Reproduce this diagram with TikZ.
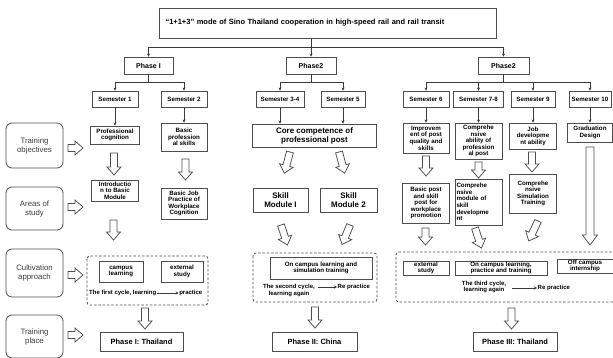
\documentclass[tikz,border=0pt]{standalone}
\usepackage{fontspec}
\setmainfont{Liberation Sans}
\usetikzlibrary{arrows.meta}
\definecolor{bdr}{HTML}{4D4D4D}
\definecolor{ln}{HTML}{3A3A3A}
\definecolor{txt}{HTML}{3C3C3C}
\tikzset{
  sz/.style 2 args={minimum width=#1pt, minimum height=#2pt},
  bx/.style={draw=bdr, line width=0.9pt, inner sep=0.5pt, align=center,
    font=\fontsize{6.2}{6.6}\selectfont\bfseries, text=black},
  lbl/.style={draw=bdr, line width=0.8pt, rounded corners=6pt, align=center,
    minimum width=57pt, font=\fontsize{7.8}{9}\selectfont, text=txt},
  conn/.style={draw=ln, line width=0.7pt, -{Stealth[length=3pt,width=3pt]}},
  plainln/.style={draw=ln, line width=0.7pt},
  hol/.style={draw=bdr, line width=0.75pt, fill=white, line join=miter},
  dbox/.style={draw=bdr, line width=0.8pt, dash pattern=on 2.5pt off 1.8pt, rounded corners=3pt},
  cyc/.style={inner sep=0.5pt, align=center, font=\fontsize{6}{6.8}\selectfont\bfseries, text=black},
  pics/harrow/.style={code={\draw[hol] (-3.5,0) -- (-3.5,#1-8) -- (-7,#1-8) -- (0,#1) -- (7,#1-8) -- (3.5,#1-8) -- (3.5,0) -- cycle;}},
  pics/hlong/.style={code={\draw[hol] (-4,0) -- (-4,#1-10) -- (-7.5,#1-10) -- (0,#1) -- (7.5,#1-10) -- (4,#1-10) -- (4,0) -- cycle;}},
}
\begin{document}
\begin{tikzpicture}[x=1pt,y=-1pt]
\useasboundingbox (0,0) rectangle (613,358);
\fill[white] (0,0) rectangle (613,358);

% title
\node[bx, sz={337}{30}, inner xsep=6pt, text width=325pt, align=left,
  font=\fontsize{7.5}{8.5}\selectfont\bfseries] (title) at (328,23)
  {“1+1+3” mode of Sino Thailand cooperation in high-speed rail and rail transit};

% phases
\node[bx, sz={49}{17}, font=\fontsize{7}{7.5}\selectfont\bfseries] (p1) at (148.5,65.5) {Phase I};
\node[bx, sz={50}{17}, font=\fontsize{7}{7.5}\selectfont\bfseries] (p2) at (311,65.5) {Phase2};
\node[bx, sz={51}{17}, font=\fontsize{7}{7.5}\selectfont\bfseries] (p3) at (503.5,65.5) {Phase2};

\coordinate (bar1) at (311,47);
\draw[conn] (title.south -| p2.north) -- (p2.north);
\draw[conn] (bar1) -| (p1.north);
\draw[conn] (bar1) -| (p3.north);

% semesters
\node[bx, sz={46}{16}] (s1) at (115,99) {Semester 1};
\node[bx, sz={46}{16}] (s2) at (184,99) {Semester 2};
\node[bx, sz={48}{16}] (s34) at (280,99) {Semester 3-4};
\node[bx, sz={44}{16}] (s5) at (343,99) {Semester 5};
\node[bx, sz={46}{16}] (s6) at (426,99) {Semester 6};
\node[bx, sz={50}{16}] (s78) at (478.5,99) {Semester 7-8};
\node[bx, sz={44}{16}] (s9) at (533,99) {Semester 9};
\node[bx, sz={42}{16}] (s10) at (590,99) {Semester 10};

\coordinate (b1) at (148.5,82);
\coordinate (b2) at (311,82);
\coordinate (b3) at (503.5,82);
\draw[plainln] (p1.south) -- (b1);
\draw[plainln] (p2.south) -- (b2);
\draw[plainln] (p3.south) -- (b3);
\draw[conn] (b1) -| (s1.north);
\draw[conn] (b1) -| (s2.north);
\draw[conn] (b2) -| (s34.north);
\draw[conn] (b2) -| (s5.north);
\draw[conn] (b3) -| (s6.north);
\draw[conn] (b3) -| (s78.north);
\draw[conn] (b3) -| (s9.north);
\draw[conn] (b3) -| (s10.north);

% left labels
\node[lbl, minimum height=45pt] (lto) at (34.5,145.5) {Training\\objectives};
\node[lbl, minimum height=43pt] (las) at (34.5,208.5) {Areas of\\study};
\node[lbl, minimum height=48pt] (lca) at (34.5,273) {Cultivation\\approach};
\node[lbl, minimum height=43pt] (ltp) at (34.5,336.5) {Training\\place};
\pic[rotate=90] at (68,148) {harrow=15};
\pic[rotate=90] at (68,207) {harrow=15};
\pic[rotate=90] at (68,275) {harrow=15};
\pic[rotate=90] at (68,335) {harrow=15};

% objectives row
\node[bx, sz={49}{18}] (pc) at (115,135) {Professional\\cognition};
\node[bx, sz={46}{28}] (bps) at (184,137) {Basic\\profession\\al skills};
\node[bx, sz={124}{23}, font=\fontsize{8}{9}\selectfont\bfseries] (core) at (314.5,135.5) {Core competence of\\professional post};
\node[bx, sz={46}{30}] (imp) at (426,138) {Improvem\\ent of post\\quality and\\skills};
\node[bx, sz={47}{36}] (cab) at (478.5,141) {Comprehe\\nsive\\ability of\\profession\\al post};
\node[bx, sz={47}{26}] (jda) at (533,136) {Job\\developme\\nt ability};
\node[bx, sz={45}{19}] (gd) at (590,132.5) {Graduation\\Design};

\draw[conn] (s1.south) -- (s1.south |- pc.north);
\draw[conn] (s2.south) -- (s2.south |- bps.north);
\draw[conn] (s34.south) -- (s34.south |- core.north);
\draw[conn] (s5.south) -- (s5.south |- core.north);
\draw[conn] (s6.south) -- (s6.south |- imp.north);
\draw[conn] (s78.south) -- (s78.south |- cab.north);
\draw[conn] (s9.south) -- (s9.south |- jda.north);
\draw[conn] (s10.south) -- (s10.south |- gd.north);

% areas row
\node[bx, sz={47}{21}] (ibm) at (115,190.5) {Introductio\\n to Basic\\Module};
\node[bx, sz={46}{31}] (bjp) at (184,203.5) {Basic Job\\Practice of\\Workplace\\Cognition};
\node[bx, sz={55}{24}, font=\fontsize{8}{9}\selectfont\bfseries] (sm1) at (280.5,200) {Skill\\Module I};
\node[bx, sz={57}{24}, font=\fontsize{8}{9}\selectfont\bfseries] (sm2) at (348.5,200) {Skill\\Module 2};
\node[bx, sz={47}{40}] (bpp) at (426,203) {Basic post\\and skill\\post for\\workplace\\promotion};
\node[bx, sz={47}{46}, text width=44pt, align=left] (cmd) at (478.5,202) {Comprehe\\nsive\\module of\\skill\\developme\\nt};
\node[bx, sz={47}{39}] (cst) at (533,193.5) {Comprehe\\nsive\\Simulation\\Training};

% hollow arrows rows
\pic at (114,153) {harrow=22};
\pic at (185.5,159) {harrow=21};
\pic[rotate=-15] at (290,152) {harrow=22};
\pic[rotate=15] at (339,152) {harrow=22};
\pic at (426,156) {harrow=20};
\pic at (478.5,162) {harrow=16};
\pic at (532,152) {harrow=20};
\pic at (590,147) {hlong=98};

\pic at (113.5,220) {harrow=20};
\pic[rotate=18] at (281,225) {harrow=21};
\pic[rotate=-22] at (350,225) {harrow=21};
\pic at (425.5,228) {harrow=17};
\pic[rotate=18] at (475,228) {harrow=21};
\pic[rotate=-25] at (538,221) {harrow=22};

% cultivation row
\draw[dbox] (87,256) rectangle (208,305);
\draw[dbox] (253,253) rectangle (377,302);
\draw[dbox] (616,252) -- (396,252) -- (396,302) -- (616,302);

\node[bx, sz={44}{21}] (cl) at (121,271.5) {campus\\learning};
\node[bx, sz={42}{21}] (es1) at (182,271.5) {external\\study};
\node[cyc, anchor=west] (c1a) at (88.5,293) {The first cycle, learning};
\node[cyc, anchor=east] (c1b) at (203,293) {practice};
\draw[conn] (c1a.east) -- (c1b.west);

\node[bx, sz={102}{22}] (ocs) at (321,268) {On campus learning and\\simulation training};
\node[cyc] (c2a) at (289,290.5) {The second cycle,\\learning again};
\node[cyc, anchor=west] (c2b) at (337,287) {Re practice};
\draw[conn] ([xshift=2pt]c2a.east |- c2b.west) -- (c2b.west);

\node[bx, sz={46}{14}] (es2) at (426,268) {external\\study};
\node[bx, sz={92}{14}] (oc) at (501,268) {On campus learning,\\practice and training};
\node[bx, sz={56}{14}] (ofc) at (585,266) {Off campus\\internship};
\node[cyc] (c3a) at (484,287) {The third cycle,\\learning again};
\node[cyc, anchor=west] (c3b) at (537,288) {Re practice};
\draw[conn] ([xshift=5pt]c3a.east |- c3b.west) -- (c3b.west);

% bottom
\pic at (145,308) {harrow=21};
\pic at (315,307) {harrow=21};
\pic at (511.5,308) {harrow=21};
\node[bx, sz={83}{19}, font=\fontsize{7.5}{8}\selectfont\bfseries] (ph1) at (141.5,341.5) {Phase I: Thailand};
\node[bx, sz={85}{19}, font=\fontsize{7.5}{8}\selectfont\bfseries] (ph2) at (314.5,341.5) {Phase II: China};
\node[bx, sz={84}{19}, font=\fontsize{7.5}{8}\selectfont\bfseries] (ph3) at (515,341.5) {Phase III: Thailand};
\end{tikzpicture}
\end{document}
